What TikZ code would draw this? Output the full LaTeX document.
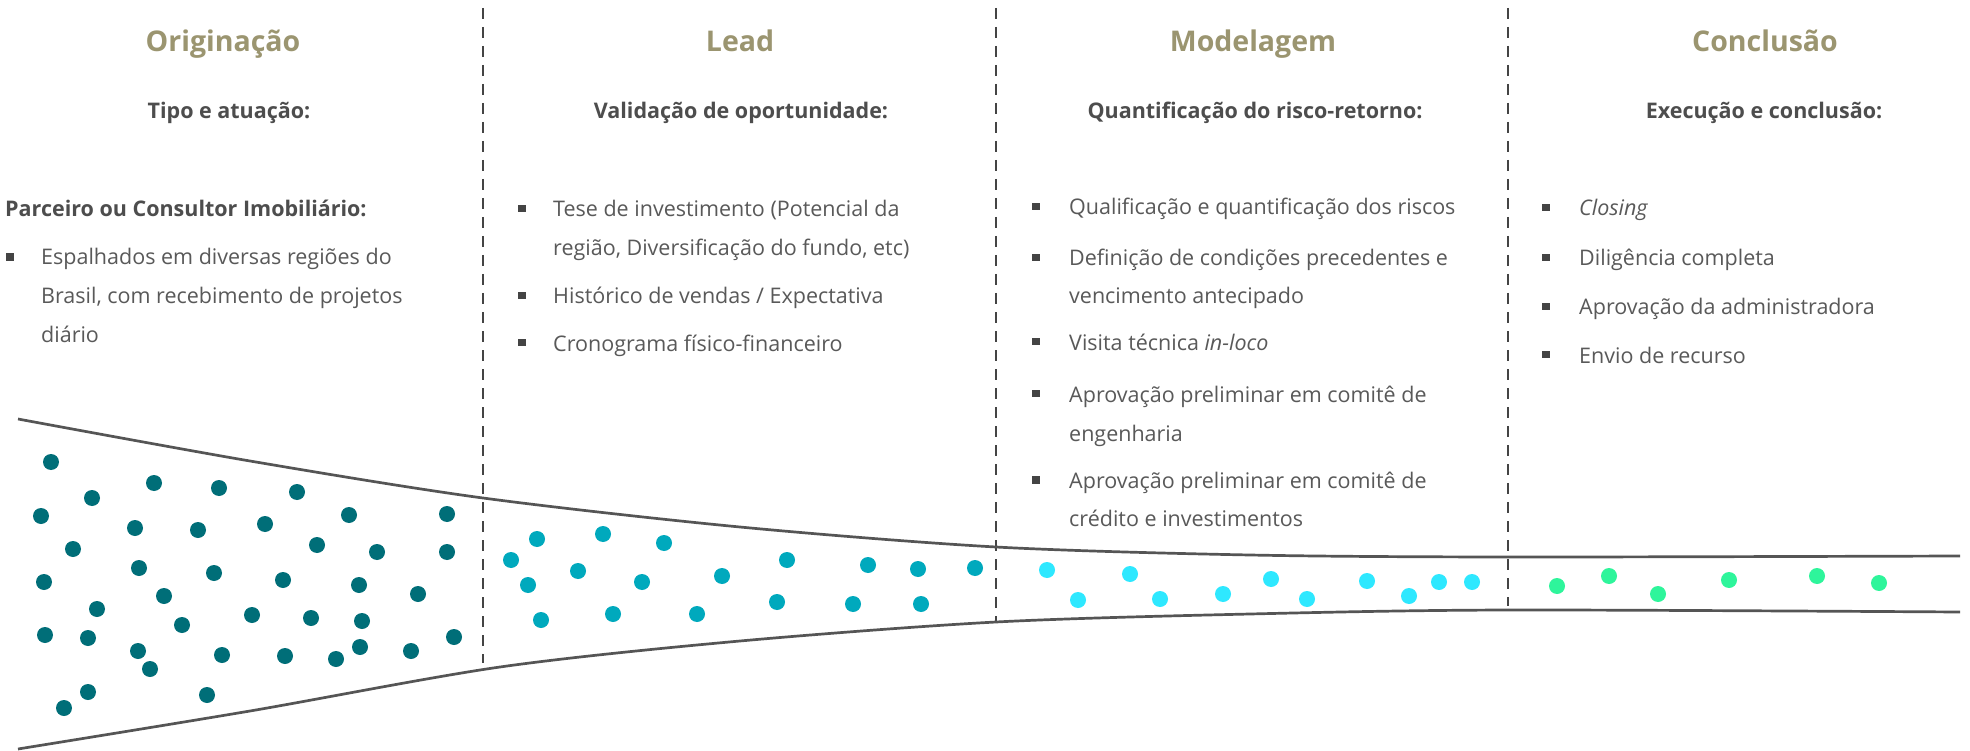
\documentclass[tikz,border=0pt]{standalone}
\usepackage{fontspec}
\setmainfont{Open Sans}
\definecolor{titlec}{RGB}{155,149,112}
\definecolor{subc}{RGB}{77,77,77}
\definecolor{bodyc}{RGB}{89,89,89}
\definecolor{linec}{RGB}{85,85,85}
\definecolor{dashc}{RGB}{68,68,68}
\definecolor{dotA}{RGB}{0,110,120}
\definecolor{dotB}{RGB}{0,169,189}
\definecolor{dotC}{RGB}{46,232,255}
\definecolor{dotD}{RGB}{46,245,155}
\tikzset{
  ttl/.style={inner sep=0pt, anchor=base, text=titlec, font=\fontsize{28.5}{34}\selectfont\bfseries},
  subhead/.style={inner sep=0pt, anchor=base, text=subc, font=\fontsize{21.5}{25}\selectfont\bfseries},
  subleft/.style={subhead, anchor=base west},
  body/.style={inner sep=0pt, anchor=base west, text=bodyc, font=\fontsize{21.5}{26}\selectfont},
  bul/.style={fill=dashc, draw=none, inner sep=0pt, minimum size=7.5pt, rectangle},
  dashline/.style={draw=dashc, line width=2.6pt, dash pattern=on 11pt off 8pt},
  funnel/.style={draw=linec, line width=2.7pt},
}
\begin{document}
\begin{tikzpicture}[x=1pt,y=-1pt]
\useasboundingbox[fill=white] (0,0) rectangle (1970,751);

% dashed separators
\coordinate (s1t) at (483,8);  \coordinate (s1b) at (483,663);
\coordinate (s2t) at (996,8);  \coordinate (s2b) at (996,622);
\coordinate (s3t) at (1508,8); \coordinate (s3b) at (1508,606);
\draw[dashline] (s1t) -- (s1b);
\draw[dashline] (s2t) -- (s2b);
\draw[dashline] (s3t) -- (s3b);

% funnel
\draw[funnel] plot[smooth, tension=0.5] coordinates {(18,419) (250,461) (483,498) (740,527) (996,547) (1250,555) (1508,557) (1960,556)};
\draw[funnel] plot[smooth, tension=0.5] coordinates {(18,749) (250,711) (500,667) (740,641) (996,622) (1250,614) (1508,610) (1960,612)};

% dots
\foreach \p in {(51,462),(92,498),(41,516),(154,483),(219,488),(297,492),(349,515),(447,514),
  (135,528),(198,530),(265,524),(73,549),(317,545),(377,552),(447,552),(44,582),(139,568),
  (214,573),(283,580),(359,585),(418,594),(164,596),(97,609),(252,615),(311,618),(362,621),
  (182,625),(45,635),(88,638),(454,637),(138,651),(222,655),(285,656),(336,659),(360,647),
  (411,651),(150,669),(88,692),(207,695),(64,708)}
  \fill[dotA] \p circle[radius=8pt];
\foreach \p in {(537,539),(603,534),(664,543),(511,560),(578,571),(528,585),(642,582),(722,576),
  (787,560),(868,565),(918,569),(975,568),(541,620),(613,614),(697,614),(777,602),(853,604),(921,604)}
  \fill[dotB] \p circle[radius=8pt];
\foreach \p in {(1047,570),(1078,600),(1130,574),(1160,599),(1223,594),(1271,579),(1307,599),
  (1367,581),(1409,596),(1439,582),(1472,582)}
  \fill[dotC] \p circle[radius=8pt];
\foreach \p in {(1557,586),(1609,576),(1658,594),(1729,580),(1817,576),(1879,583)}
  \fill[dotD] \p circle[radius=8pt];

% titles
\node[ttl] (t1) at (223,52) {Originação};
\node[ttl] (t2) at (740,52) {Lead};
\node[ttl] (t3) at (1253,52) {Modelagem};
\node[ttl] (t4) at (1765,52) {Conclusão};

% subheadings
\node[subhead] (h1) at (229,119) {Tipo e atuação:};
\node[subhead] (h2) at (741,119) {Validação de oportunidade:};
\node[subhead] (h3) at (1255,119) {Quantificação do risco-retorno:};
\node[subhead] (h4) at (1764,119) {Execução e conclusão:};

% column 1
\node[subleft] (p1) at (5,217) {Parceiro ou Consultor Imobiliário:};
\node[bul] (b11) at (10,257) {};
\node[body] (c11) at (41,265) {Espalhados em diversas regiões do};
\node[body] (c12) at (41,304) {Brasil, com recebimento de projetos};
\node[body] (c13) at (41,342) {diário};

% column 2
\node[bul] (b21) at (522,208.5) {};
\node[body] (c21) at (553,217) {Tese de investimento (Potencial da};
\node[body] (c22) at (553,256) {região, Diversificação do fundo, etc)};
\node[bul] (b22) at (522,295.5) {};
\node[body] (c23) at (553,304) {Histórico de vendas / Expectativa};
\node[bul] (b23) at (522,342.5) {};
\node[body] (c24) at (553,351) {Cronograma físico-financeiro};

% column 3
\node[bul] (b31) at (1036,206.5) {};
\node[body] (c31) at (1069,215) {Qualificação e quantificação dos riscos};
\node[bul] (b32) at (1036,257.5) {};
\node[body] (c32) at (1069,266) {Definição de condições precedentes e};
\node[body] (c33) at (1069,304) {vencimento antecipado};
\node[bul] (b33) at (1036,341.5) {};
\node[body] (c34) at (1069,350) {Visita técnica \textit{in-loco}};
\node[bul] (b34) at (1036,393.5) {};
\node[body] (c35) at (1069,402) {Aprovação preliminar em comitê de};
\node[body] (c36) at (1069,441) {engenharia};
\node[bul] (b35) at (1036,480) {};
\node[body] (c37) at (1069,488.5) {Aprovação preliminar em comitê de};
\node[body] (c38) at (1069,526) {crédito e investimentos};

% column 4
\node[bul] (b41) at (1546,207.5) {};
\node[body] (c41) at (1579,216) {\textit{Closing}};
\node[bul] (b42) at (1546,257.5) {};
\node[body] (c42) at (1579,266) {Diligência completa};
\node[bul] (b43) at (1546,306.5) {};
\node[body] (c43) at (1579,315) {Aprovação da administradora};
\node[bul] (b44) at (1546,354.5) {};
\node[body] (c44) at (1579,363) {Envio de recurso};
\end{tikzpicture}
\end{document}
